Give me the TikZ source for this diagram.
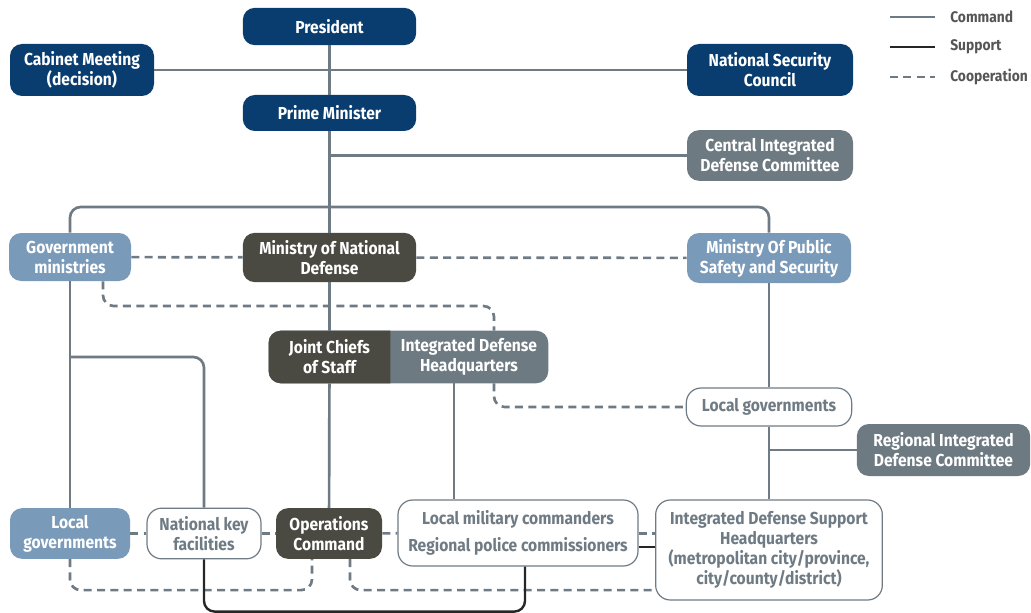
\documentclass[tikz,border=0pt]{standalone}
\usepackage{fontspec}
\setmainfont{Fira Sans}[FakeStretch=0.9]
\usepackage{tikz}
\usetikzlibrary{calc,positioning,backgrounds}
\definecolor{navy}{HTML}{0A3D6F}
\definecolor{olive}{HTML}{4A4A42}
\definecolor{slate}{HTML}{6E7A82}
\definecolor{steel}{HTML}{7A9ABA}
\definecolor{linegray}{HTML}{6F7B84}
\definecolor{legendtext}{HTML}{555555}
\tikzset{
  cmd/.style={draw=linegray, line width=2pt, rounded corners=8pt},
  support/.style={draw=black!85, line width=1.8pt, rounded corners=8pt},
  coop/.style={draw=linegray, line width=2pt, dash pattern=on 6pt off 4pt, rounded corners=8pt},
  box/.style={rounded corners=9pt, align=center, inner sep=0pt, text=white,
    font=\fontsize{13}{15}\selectfont\bfseries},
  navybox/.style={box, fill=navy},
  darkbox/.style={box, fill=olive},
  graybox/.style={box, fill=slate},
  bluebox/.style={box, fill=steel},
  whitebox/.style={box, fill=white, draw=linegray, line width=0.9pt, text=linegray, rounded corners=11pt},
  legend/.style={anchor=west, inner sep=0pt, text=legendtext, font=\fontsize{11.5}{13}\selectfont\bfseries}
}
\begin{document}
\begin{tikzpicture}[x=0.75pt, y=-0.75pt]
  \useasboundingbox (0,0) rectangle (1031,613);
  % top level
  \node[navybox, minimum width=130pt, minimum height=28pt] (Pres) at (329.5,26.5) {President};
  \node[navybox, minimum width=108pt, minimum height=39pt] (Cab) at (82,70) {Cabinet Meeting\\(decision)};
  \node[navybox, minimum width=124.5pt, minimum height=39pt] (NSC) at (770,70) {National Security\\Council};
  \node[navybox, minimum width=130pt, minimum height=27pt] (PM) at (329.5,113) {Prime Minister};
  \node[graybox, minimum width=124.5pt, minimum height=38pt] (CIDC) at (770,155.5) {Central Integrated\\Defense Committee};
  % ministries
  \node[bluebox, minimum width=91.5pt, minimum height=36pt] (GovM) at (70,257) {Government\\ministries};
  \node[darkbox, minimum width=130pt, minimum height=37pt] (MND) at (329.5,257.5) {Ministry of National\\Defense};
  \node[bluebox, minimum width=123pt, minimum height=37.5pt] (MOPSS) at (769,258) {Ministry Of Public\\Safety and Security};
  \node[box, minimum width=91pt, minimum height=39pt] (JCS) at (329.5,357) {Joint Chiefs\\of Staff};
  \node[box, minimum width=118.5pt, minimum height=39pt] (IDHQ) at (469,357) {Integrated Defense\\Headquarters};
  \node[whitebox, minimum width=124pt, minimum height=28.5pt] (LocGovR) at (769,407) {Local governments};
  \node[graybox, minimum width=130pt, minimum height=39pt] (RIDC) at (943.5,450) {Regional Integrated\\Defense Committee};
  % bottom row
  \node[bluebox, minimum width=90pt, minimum height=38pt] (LocGovL) at (70,533.5) {Local\\governments};
  \node[whitebox, minimum width=85.5pt, minimum height=38pt] (NKF) at (204,533.5) {National key\\facilities};
  \node[darkbox, minimum width=79.5pt, minimum height=38pt] (OC) at (329,533.5) {Operations\\Command};
  \node[whitebox, minimum width=180pt, minimum height=49.5pt, font=\fontsize{13}{20}\selectfont\bfseries] (LMC) at (518,533) {Local military commanders\\Regional police commissioners};
  \node[whitebox, minimum width=170pt, minimum height=75pt] (IDSHQ) at (769,550) {Integrated Defense Support\\Headquarters\\(metropolitan city/province,\\city/county/district)};
  \begin{scope}[on background layer]
    \fill[slate, rounded corners=9pt] (JCS.north west) rectangle (IDHQ.south east);
    \clip (JCS.north west) rectangle (JCS.south east);
    \fill[olive, rounded corners=9pt] (JCS.north west) rectangle (IDHQ.south east);
  \end{scope}
  % command
  \draw[cmd] (Cab) -- (NSC);
  \draw[cmd] (Pres) -- (PM);
  \draw[cmd] (PM) -- (MND);
  \draw[cmd] (MND) -- (JCS);
  \draw[cmd] (JCS) -- (OC);
  \draw[cmd] (PM.south |- CIDC) -- (CIDC.west);
  \draw[cmd] (GovM.north) |- (329.5,207) -| (MOPSS.north);
  \draw[cmd] (GovM) -- (LocGovL);
  \draw[cmd] (GovM.south |- JCS) -| (NKF.north);
  \draw[cmd] (MOPSS) -- (LocGovR);
  \draw[cmd] (LocGovR) -- (IDSHQ);
  \draw[cmd] (LocGovR.south |- RIDC) -- (RIDC.west);
  \draw[cmd] ($(IDHQ.south)+(-15,0)$) coordinate (h) -- (h |- LMC.north);
  % cooperation
  \draw[coop] (GovM) -- (MND);
  \draw[coop] (MND) -- (MOPSS);
  \draw[coop] ($(GovM.south)+(33,0)$) |- (494,306) -- ($(IDHQ.north)+(25,0)$);
  \draw[coop] ($(IDHQ.south)+(25,0)$) |- (LocGovR.west);
  \draw[coop] (LocGovL) -- (NKF);
  \draw[coop] (NKF) -- (OC);
  \draw[coop] (OC) -- (LMC);
  \draw[coop] (LMC.east |- OC) -- (IDSHQ.west |- OC);
  \draw[coop] (LocGovL.south) |- ($(OC.south)+(-17,31)$) coordinate (p) -- ($(OC.south)+(-17,0)$);
  \draw[coop] ($(OC.south)+(21,0)$) |- (IDSHQ.west |- p);
  % support
  \draw[support] ($(LMC.east)+(0,14)$) coordinate (s) -- (s -| IDSHQ.west);
  \draw[support] (NKF.south) |- ($(LMC.south)+(7,45)$) -- ($(LMC.south)+(7,0)$);
  % legend
  \node[legend] (lcmd) at (950,17) {Command};
  \node[legend] (lsup) at (950,47) {Support};
  \node[legend] (lcoop) at (950,77) {Cooperation};
  \draw[cmd] ($(lcmd.west)+(-60,0)$) -- ($(lcmd.west)+(-15,0)$);
  \draw[support] ($(lsup.west)+(-60,0)$) -- ($(lsup.west)+(-15,0)$);
  \draw[coop] ($(lcoop.west)+(-60,0)$) -- ($(lcoop.west)+(-15,0)$);
\end{tikzpicture}
\end{document}
